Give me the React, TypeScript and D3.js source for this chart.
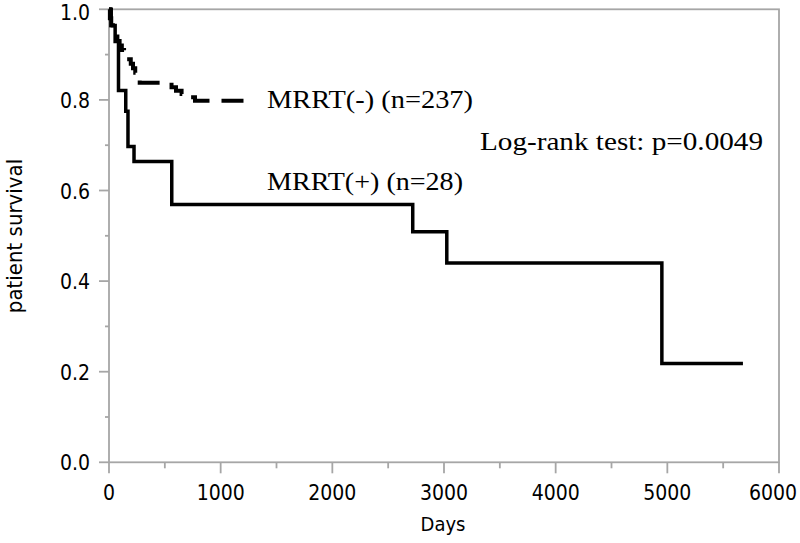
import React from "react";
import * as d3 from "d3";

const xTicks = [0, 1000, 2000, 3000, 4000, 5000, 6000];
const yTicks = [0, 0.2, 0.4, 0.6, 0.8, 1.0];
const xMinor = [500, 1500, 2500, 3500, 4500, 5500];
const yMinor = [0.1, 0.3, 0.5, 0.7, 0.9];

// MRRT(+) solid: [day, survival after event]
const posDays = [0, 20, 55, 85, 150, 170, 224, 562, 2720, 3025, 4951, 5677];
const posSurv = [1.0, 0.964, 0.929, 0.821, 0.775, 0.697, 0.664, 0.569, 0.509, 0.44, 0.218, 0.218];

// MRRT(-) dashed
const negDays = [0, 8, 20, 35, 55, 75, 95, 115, 135, 160, 195, 215, 235, 255, 275, 560, 600, 650, 700, 770, 1236];
const negSurv = [1.0, 0.98, 0.965, 0.95, 0.94, 0.93, 0.92, 0.91, 0.9, 0.89, 0.88, 0.87, 0.86, 0.85, 0.838, 0.828, 0.82, 0.813, 0.806, 0.798, 0.798];

const W = 800;
const H = 543;

export default function App() {
  const x = d3.scaleLinear().domain([0, 6000]).range([109, 779]);
  const y = d3.scaleLinear().domain([0, 1]).range([462.3, 9.3]);
  const line = d3
    .line<[number, number]>()
    .x((d) => x(d[0]))
    .y((d) => y(d[1]))
    .curve(d3.curveStepAfter);
  const posData = posDays.map((d, i) => [d, posSurv[i]] as [number, number]);
  const negData = negDays.map((d, i) => [d, negSurv[i]] as [number, number]);
  const axisColor = "#a6a6a6";
  const tickFont = "'DejaVu Sans Condensed', 'DejaVu Sans', sans-serif";
  const serif = "'Liberation Serif', 'Times New Roman', serif";
  const x0 = x(0);
  const y0 = y(0);
  return (
    <svg width={W} height={H} style={{ position: "absolute", left: 0, top: 0, background: "#fff" }}>
      <rect x={0} y={0} width={W} height={H} fill="#fff" />
      {/* frame */}
      <rect x={x0} y={y(1)} width={x(6000) - x0} height={y0 - y(1)} fill="none" stroke={axisColor} strokeWidth={1.8} />
      {/* x ticks */}
      {xTicks.map((t) => (
        <g key={"xt" + t}>
          <line x1={x(t)} x2={x(t)} y1={y0} y2={y0 + 11} stroke={axisColor} strokeWidth={1.8} />
          <text
            x={t === 6000 ? 797 : x(t)}
            y={500}
            textAnchor={t === 6000 ? "end" : "middle"}
            fontFamily={tickFont}
            fontSize={21}
            fill="#000"
          >
            {t}
          </text>
        </g>
      ))}
      {xMinor.map((t) => (
        <line key={"xm" + t} x1={x(t)} x2={x(t)} y1={y0} y2={y0 + 6} stroke={axisColor} strokeWidth={1.8} />
      ))}
      {/* y ticks */}
      {yTicks.map((t) => (
        <g key={"yt" + t}>
          <line x1={x0 - 10} x2={x0} y1={y(t)} y2={y(t)} stroke={axisColor} strokeWidth={1.8} />
          <text x={90} y={Math.max(y(t) + 8, 20)} textAnchor="end" fontFamily={tickFont} fontSize={21} fill="#000">
            {t.toFixed(1)}
          </text>
        </g>
      ))}
      {yMinor.map((t) => (
        <line key={"ym" + t} x1={x0 - 4} x2={x0} y1={y(t)} y2={y(t)} stroke={axisColor} strokeWidth={1.8} />
      ))}
      {/* axis titles */}
      <text x={443} y={531} textAnchor="middle" fontFamily={tickFont} fontSize={20} fill="#000">
        Days
      </text>
      <text
        transform={`translate(22,${236}) rotate(-90)`}
        textAnchor="middle"
        fontFamily={tickFont}
        fontSize={22}
        fill="#000"
      >
        patient survival
      </text>
      {/* curves */}
      <path d={line(negData) || ""} fill="none" stroke="#000" strokeWidth={4} strokeDasharray="22,12" />
      <path d={line(posData) || ""} fill="none" stroke="#000" strokeWidth={3.5} />
      {/* annotations */}
      <text x={267} y={108} fontFamily={serif} fontSize={25} fill="#000" textLength={206} lengthAdjust="spacingAndGlyphs">
        MRRT(-) (n=237)
      </text>
      <text x={267} y={190} fontFamily={serif} fontSize={25} fill="#000" textLength={196} lengthAdjust="spacingAndGlyphs">
        MRRT(+) (n=28)
      </text>
      <text x={480} y={150} fontFamily={serif} fontSize={25} fill="#000" textLength={283} lengthAdjust="spacingAndGlyphs">
        Log-rank test: p=0.0049
      </text>
    </svg>
  );
}
